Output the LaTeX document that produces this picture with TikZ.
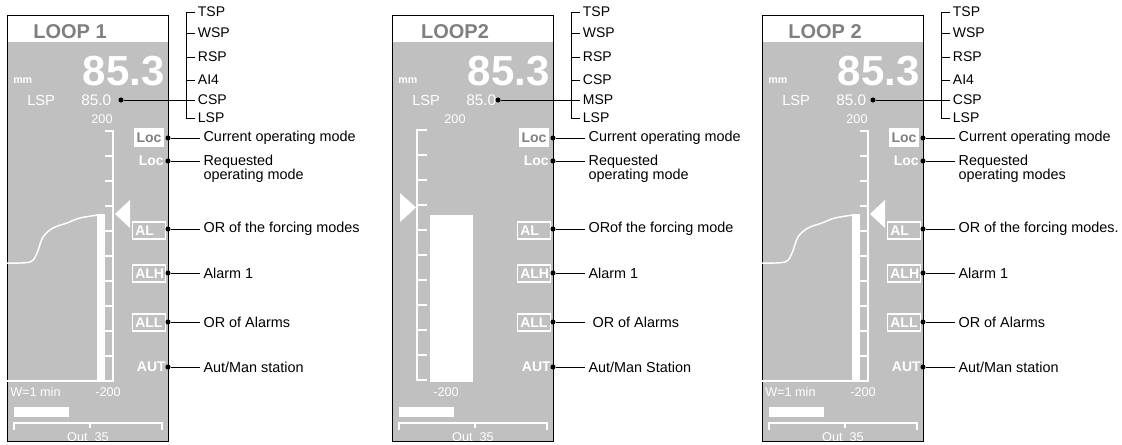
\documentclass[tikz,border=0pt]{standalone}
\usepackage{fontspec}
\setmainfont{Liberation Sans}
\definecolor{panelgray}{HTML}{C0C0C0}
\definecolor{titlegray}{HTML}{7F7F7F}
\tikzset{
  lbl/.style={font=\fontsize{10.8}{10.5}\selectfont, inner xsep=2.5pt, inner ysep=0pt, anchor=west},
  brk/.style={font=\fontsize{10.5}{10.5}\selectfont, inner xsep=2pt, inner ysep=0pt, anchor=west},
  dotn/.style={circle, fill=black, inner sep=0pt, minimum size=3.8pt},
  wtxt/.style={text=white, inner sep=0pt},
  boldf/.style={font=\fontsize{10.5}{10.5}\selectfont\bfseries},
  smallf/.style={font=\fontsize{9.5}{9.5}\selectfont},
  modebox/.style={draw=white, line width=1.1pt, text=white, boldf, minimum height=12.75pt,
    text width=20.5pt, inner xsep=2.2pt, inner ysep=0pt, align=left},
  locbox/.style={fill=white, text=titlegray, boldf, minimum width=22.5pt, minimum height=14.25pt, inner sep=0pt},
  conn/.style={line width=0.75pt},
  wline/.style={white, line width=1.5pt},
}
\newcommand{\panelbase}[4]{%
\begin{scope}[shift={(#2,15)}]
  \fill[panelgray] (0,0) rectangle (161,426);
  \fill[white] (0,0) rectangle (161,27);
  \node[font=\fontsize{15}{15}\selectfont\bfseries, text=titlegray, inner sep=0pt, anchor=base] (#1-title) at (63,23) {#3};
  \node[wtxt, font=\fontsize{31.5}{31.5}\selectfont\bfseries, anchor=base east] (#1-pv) at (158,70) {85.3};
  \node[wtxt, font=\fontsize{8}{8}\selectfont\bfseries, anchor=base west] (#1-unit) at (6,68) {mm};
  \node[wtxt, font=\fontsize{11}{11}\selectfont, anchor=base west] (#1-lsp) at (20,90) {LSP};
  \node[wtxt, font=\fontsize{11.5}{11.5}\selectfont, anchor=base west] (#1-sp) at (74,90) {85.0};
  \begin{scope}
    \clip (0,0) rectangle (161,426);
    \node[wtxt, smallf, anchor=base] (#1-out) at (81,426) {Out\ \ 35};
  \end{scope}
  \fill[white] (7,392) rectangle (62,402);
  \draw[white, line width=1pt] (7,415) -- (7,408) -- (155,408) -- (155,415) (83,408) -- (83,413);
  \node[locbox] (#1-cur) at (142,122.5) {Loc};
  \node[wtxt, boldf, anchor=east] (#1-req) at (157,146) {Loc};
  \node[modebox] (#1-al) at (142,215.5) {AL};
  \node[modebox] (#1-alh) at (142,258.5) {ALH};
  \node[modebox] (#1-all) at (142,307.5) {ALL};
  \node[wtxt, boldf, anchor=east] (#1-aut) at (159,352) {AUT};
  \draw[line width=0.75pt] (0,0) rectangle (161,426);
  \node[dotn] (#1-spdot) at (#4,85) {};
  \node[dotn] (#1-d1) at (161,123) {};
  \node[dotn] (#1-d2) at (161,146) {};
  \node[dotn] (#1-d3) at (161,214) {};
  \node[dotn] (#1-d4) at (161,258) {};
  \node[dotn] (#1-d5) at (161,307) {};
  \node[dotn] (#1-d6) at (161,352) {};
\end{scope}}
\newcommand{\spbracket}[8]{%
\begin{scope}[shift={(#2,15)}]
  \node[brk] (#1-b1) at (188,-3) {#3};
  \node[brk] (#1-b2) at (188,18) {#4};
  \node[brk] (#1-b3) at (188,42) {#5};
  \node[brk] (#1-b4) at (188,65) {#6};
  \node[brk] (#1-b5) at (188,85) {#7};
  \node[brk] (#1-b6) at (188,103) {#8};
  \draw[conn] (#1-b1.west) -- ++(-9,0) |- (#1-b6.west);
  \draw[conn] (#1-b2.west) -- ++(-9,0);
  \draw[conn] (#1-b3.west) -- ++(-9,0);
  \draw[conn] (#1-b4.west) -- ++(-9,0);
  \draw[conn] (#1-spdot) -- (#1-b5.west);
\end{scope}}
\newcommand{\modelabels}[8]{%
\begin{scope}[shift={(#2,15)}]
  \node[lbl] (#1-l1) at (193,123) {#3};
  \node[lbl, anchor=north west, align=left] (#1-l2) at (193,140) {#4};
  \node[lbl] (#1-l3) at (193,214) {#5};
  \node[lbl] (#1-l4) at (193,258) {#6};
  \node[lbl] (#1-l5) at (193,307) {#7};
  \node[lbl] (#1-l6) at (193,352) {#8};
  \draw[conn] (#1-d1) -- (#1-l1.west);
  \draw[conn] (#1-d2) -- (#1-d2 -| #1-l2.west);
  \draw[conn] (#1-d3) -- (#1-l3.west);
  \draw[conn] (#1-d4) -- (#1-l4.west);
  \draw[conn] (#1-d5) -- (#1-l5.west);
  \draw[conn] (#1-d6) -- (#1-l6.west);
\end{scope}}
\newcommand{\trendgraph}[2]{%
\begin{scope}[shift={(#2,15)}]
  \fill[white] (90,199) rectangle (98,366);
  \draw[wline] (0,366) -- (106,366) -- (106,116) -- (98,116);
  \foreach \yy in {141,166,...,341} \draw[white, line width=1.2pt] (98,\yy) -- (106,\yy);
  \draw[white, line width=1.1pt] plot[smooth, tension=0.55] coordinates {(0,248) (23,247) (30,238) (36,222) (46,213) (60,208) (73,203) (91,200)};
  \fill[white] (108,199) -- (123,185) -- (123,213) -- cycle;
  \node[wtxt, smallf, anchor=base] (#1-top) at (95,108) {200};
  \node[wtxt, smallf, anchor=base] (#1-bot) at (101,381) {-200};
  \node[wtxt, smallf, anchor=base west] (#1-win) at (3,381) {W=1 min};
\end{scope}}
\begin{document}
\begin{tikzpicture}[x=0.75pt,y=-0.75pt]
\useasboundingbox (0,0) rectangle (1122,444);
% panel 1
\panelbase{p1}{7}{LOOP 1}{114}
\trendgraph{p1}{7}
\spbracket{p1}{7}{TSP}{WSP}{RSP}{AI4}{CSP}{LSP}
\modelabels{p1}{7}{Current operating mode}{Requested\\operating mode}{OR of the forcing modes}{Alarm 1}{OR of Alarms}{Aut/Man station}
% panel 2
\panelbase{p2}{392}{LOOP2}{106}
\begin{scope}[shift={(392,15)}]
  \draw[wline] (35,115) -- (25,115) -- (25,365) -- (35,365);
  \foreach \yy in {140,165,...,340} \draw[white, line width=1.2pt] (25,\yy) -- (35,\yy);
  \fill[white] (38,200) rectangle (81,367);
  \fill[white] (8,178) -- (24,192.5) -- (8,207) -- cycle;
  \node[wtxt, smallf, anchor=base] (p2-top) at (63,108) {200};
  \node[wtxt, smallf, anchor=base] (p2-bot) at (54,381) {-200};
\end{scope}
\spbracket{p2}{392}{TSP}{WSP}{RSP}{CSP}{MSP}{LSP}
\modelabels{p2}{392}{Current operating mode}{Requested\\operating mode}{ORof the forcing mode}{Alarm 1}{\ OR of Alarms}{Aut/Man Station}
% panel 3
\panelbase{p3}{762}{LOOP 2}{111}
\trendgraph{p3}{762}
\spbracket{p3}{762}{TSP}{WSP}{RSP}{AI4}{CSP}{LSP}
\modelabels{p3}{762}{Current operating mode}{Requested\\operating modes}{OR of the forcing modes.}{Alarm 1}{OR of Alarms}{Aut/Man station}
\end{tikzpicture}
\end{document}
